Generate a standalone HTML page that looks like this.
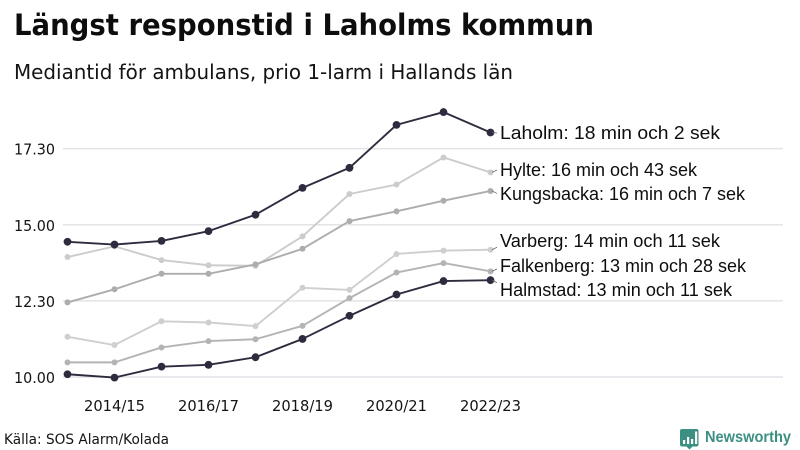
<!DOCTYPE html>
<html lang="sv">
<head>
<meta charset="utf-8">
<title>Längst responstid i Laholms kommun</title>
<style>
html,body{margin:0;padding:0;background:#fff;width:800px;height:450px;overflow:hidden}
svg{display:block}
.sans{font-family:"DejaVu Sans",sans-serif;fill:#141414}
.lab{font-family:"Liberation Sans",Arial,sans-serif;fill:#0d0d0d;font-size:18.5px}
</style>
</head>
<body>
<svg id="chart" width="800" height="450" viewBox="0 0 800 450" xmlns="http://www.w3.org/2000/svg">
  <text class="sans" x="14" y="35" font-size="29.5" font-weight="700" style="fill:#0d0d0d" textLength="580" lengthAdjust="spacingAndGlyphs">Längst responstid i Laholms kommun</text>
  <text class="sans" x="14" y="79" font-size="20.5" textLength="499" lengthAdjust="spacingAndGlyphs">Mediantid för ambulans, prio 1-larm i Hallands län</text>
  <g id="grid"></g>
  <g id="yaxis"></g>
  <g id="xaxis"></g>
  <g id="series"></g>
  <g id="labels"></g>
  <text class="sans" x="4" y="444" font-size="14.5" textLength="165" lengthAdjust="spacingAndGlyphs">Källa: SOS Alarm/Kolada</text>
  <g>
    <path d="M682 429h14.500a2 2 0 0 1 2 2v13.500a2 2 0 0 1-2 2h-4l-3 3-3-3h-4.500a2 2 0 0 1-2-2v-13.500a2 2 0 0 1 2-2z" fill="#3b8f83"/>
    <rect x="683" y="440" width="2.200" height="4" fill="#fff"/>
    <rect x="687" y="437" width="2.200" height="7" fill="#fff"/>
    <rect x="691" y="439" width="2.200" height="5" fill="#fff"/>
    <rect x="695" y="431.500" width="2.200" height="12.500" fill="#fff"/>
    <text x="705" y="442" font-family="'Liberation Sans',sans-serif" font-weight="700" font-size="16" fill="#3b8f83" textLength="86" lengthAdjust="spacingAndGlyphs">Newsworthy</text>
  </g>
</svg>
<script>
const periods = ["2013/14","2014/15","2015/16","2016/17","2017/18","2018/19","2019/20","2020/21","2021/22","2022/23"];
const xTickLabels = ["2014/15","2016/17","2018/19","2020/21","2022/23"];
const yTickValues = [10, 12.5, 15, 17.5];
const yTickLabels = ["10.00","12.30","15.00","17.30"];
const laholm = [14.44,14.35,14.47,14.79,15.33,16.21,16.87,18.28,18.70,18.03];
const hylte = [13.94,14.29,13.84,13.67,13.65,14.62,16.01,16.32,17.21,16.72];
const kungsbacka = [12.45,12.88,13.39,13.39,13.70,14.21,15.12,15.44,15.79,16.11];
const varberg = [11.32,11.05,11.83,11.79,11.67,12.93,12.86,14.04,14.15,14.18];
const falkenberg = [10.48,10.48,10.97,11.18,11.24,11.68,12.59,13.43,13.74,13.47];
const halmstad = [10.09,9.98,10.34,10.40,10.65,11.25,12.01,12.71,13.15,13.18];
const laholmLabel = "Laholm: 18 min och 2 sek";
const hylteLabel = "Hylte: 16 min och 43 sek";
const kungsbackaLabel = "Kungsbacka: 16 min och 7 sek";
const varbergLabel = "Varberg: 14 min och 11 sek";
const falkenbergLabel = "Falkenberg: 13 min och 28 sek";
const halmstadLabel = "Halmstad: 13 min och 11 sek";

const NS = "http://www.w3.org/2000/svg";
const xScale = i => 67.5 + i * (423 / (periods.length - 1));
const yScale = v => 377 - (v - 10) * 30.45;
const make = (tag, parent, props) => {
  const el = document.createElementNS(NS, tag);
  for (const k in props) el.setAttribute(k, props[k]);
  parent.appendChild(el);
  return el;
};

const grid = document.getElementById("grid");
const yaxis = document.getElementById("yaxis");
yTickValues.forEach((v, i) => {
  const line = make("line", grid, {x1: 63, x2: 783, y1: yScale(v), y2: yScale(v), stroke: "#e3e3e8", "stroke-width": 1.5});
  
  
  const t = make("text", yaxis, {x: 14, y: yScale(v) + 6, class: "sans", "font-size": 15.5, textLength: 41, lengthAdjust: "spacingAndGlyphs"});
  
  
  t.textContent = yTickLabels[i];
});

const xaxis = document.getElementById("xaxis");
xTickLabels.forEach(lbl => {
  const i = periods.indexOf(lbl);
  const t = make("text", xaxis, {x: xScale(i) - 30.5, y: 411, class: "sans", "font-size": 15.5, textLength: 61, lengthAdjust: "spacingAndGlyphs"});
  
  
  t.textContent = lbl;
});

const seriesGroup = document.getElementById("series");
const labelGroup = document.getElementById("labels");
function drawSeries(values, text, color, width, r, labelY, labelW) {
  const g = make("g", seriesGroup, {});
  
  
  const pts = values.map((v, i) => xScale(i) + "," + yScale(v)).join(" ");
  const line = make("polyline", g, {points: pts, fill: "none", stroke: color, "stroke-width": width, "stroke-linejoin": "round"});
  
  
  values.forEach((v, i) => {
    const c = make("circle", g, {cx: xScale(i), cy: yScale(v), r: r, fill: color});
    
    
  });
  const lastY = yScale(values[values.length - 1]);
  const endY = lastY + Math.max(-2.5, Math.min(2.5, labelY - lastY));
  const conn = make("line", labelGroup, {x1: 492, y1: lastY, x2: 497, y2: endY, stroke: "#666", "stroke-width": 0.8});
  
  
  const t = make("text", labelGroup, {x: 500, y: labelY + 6, class: "lab", textLength: labelW, lengthAdjust: "spacingAndGlyphs"});
  
  
  t.textContent = text;
}
drawSeries(hylte, hylteLabel, "#cccccc", 1.9, 3, 170, 197);
drawSeries(varberg, varbergLabel, "#cfcfcf", 1.9, 3, 241, 220);
drawSeries(kungsbacka, kungsbackaLabel, "#adadad", 1.9, 3, 194, 245);
drawSeries(falkenberg, falkenbergLabel, "#b4b4b4", 1.9, 3, 266, 246);
drawSeries(laholm, laholmLabel, "#2d2c3e", 1.9, 3.9, 133, 220);
drawSeries(halmstad, halmstadLabel, "#2d2c3e", 1.9, 3.9, 290, 232);
</script>
</body>
</html>
